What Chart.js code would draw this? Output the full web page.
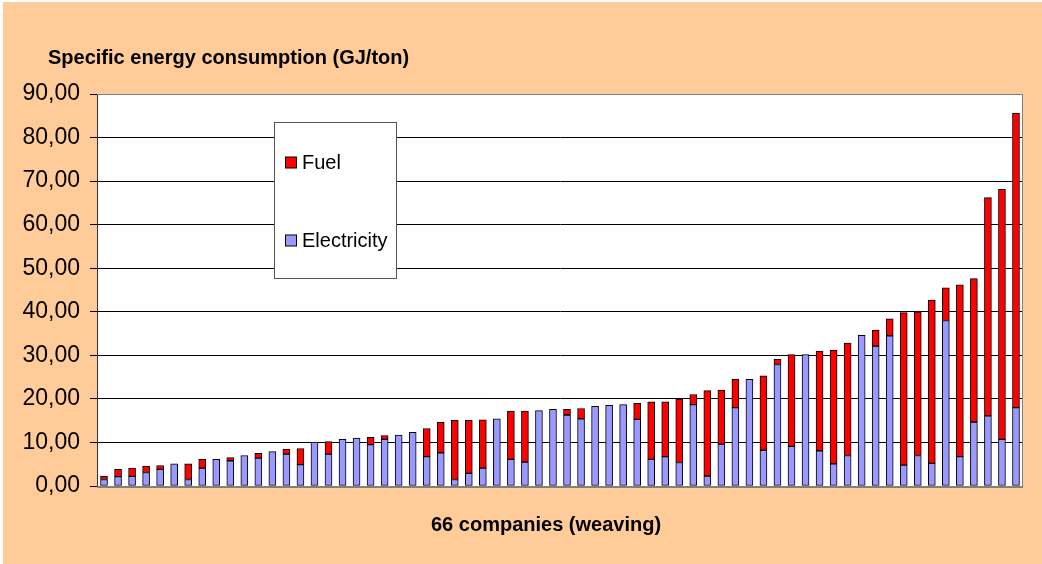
<!DOCTYPE html>
<html>
<head>
<meta charset="utf-8">
<script src="https://cdn.jsdelivr.net/npm/chart.js@4.4.1/dist/chart.umd.min.js"></script>
<style>
  html, body { margin: 0; padding: 0; background: #ffffff; }
  #wrap { width: 1042px; height: 564px; position: relative; }
</style>
</head>
<body>
<div id="wrap"><canvas id="c" width="1042" height="564"></canvas></div>
<script>
// ---- data ----
const companies = Array.from({length: 66}, (_, i) => String(i + 1));
const electricity = [
  1.5, 2.15, 2.2, 3.1, 3.8, 5.1, 1.5, 4.1, 6.1, 5.8, 7.0, 6.4, 7.9, 7.3, 4.9, 10.1, 7.3, 10.7, 11.0, 9.5, 10.7, 11.7,
  12.3, 6.75, 7.6, 1.5, 2.9, 4.1, 15.4, 6.1, 5.5, 17.3, 17.6, 16.3, 15.4, 18.3, 18.5, 18.7, 15.3, 6.1, 6.75, 5.4, 18.7, 2.3, 9.6,
  18.0, 24.5, 8.2, 27.9, 9.1, 30.2, 8.1, 5.1, 7.0, 34.6, 32.1, 34.5, 4.8, 7.0, 5.2, 38.0, 6.75, 14.7, 16.1, 10.7, 18.0
];
const fuel = [
  0.8, 1.65, 1.9, 1.5, 0.9, 0, 3.6, 2.0, 0, 0.7, 0, 1.1, 0, 1.2, 3.7, 0, 2.9, 0, 0, 1.7, 0.9, 0,
  0, 6.45, 7.0, 13.6, 12.2, 11.1, 0, 11.1, 11.7, 0, 0, 1.3, 2.4, 0, 0, 0, 3.7, 13.2, 12.55, 14.6, 2.3, 19.6, 12.4,
  6.5, 0, 17.1, 1.2, 21.1, 0, 22.9, 26.1, 25.8, 0, 3.7, 3.9, 35.0, 33.0, 37.5, 7.5, 39.45, 32.9, 50.1, 57.4, 67.6
];
const seriesNames = ['Electricity', 'Fuel'];
const yTickValues = [0, 10, 20, 30, 40, 50, 60, 70, 80, 90];
const chartTitle = 'Specific energy consumption (GJ/ton)';
const xTitle = '66 companies (weaving)';

const FONT = "Arial, 'Liberation Sans', sans-serif";
const PEACH = '#FFCC99';

const decorPlugin = {
  id: 'decor',
  beforeDraw(chart) {
    const ctx = chart.ctx, a = chart.chartArea;
    ctx.save();
    ctx.fillStyle = '#ffffff';
    ctx.fillRect(0, 0, chart.width, chart.height);
    ctx.fillStyle = PEACH;
    ctx.fillRect(3, 2, chart.width - 3, chart.height - 2);
    ctx.fillStyle = '#ffffff';
    ctx.fillRect(a.left, a.top, a.right - a.left, a.bottom - a.top);
    ctx.restore();
  },
  afterDatasetsDraw(chart) {
    const ctx = chart.ctx, a = chart.chartArea;
    ctx.save();
    // plot border (top/right)
    ctx.strokeStyle = '#808080';
    ctx.lineWidth = 1;
    ctx.beginPath();
    ctx.moveTo(a.left, a.top + 0.5);
    ctx.lineTo(a.right - 0.5, a.top + 0.5);
    ctx.lineTo(a.right - 0.5, a.bottom);
    ctx.stroke();
    // bottom axis line
    ctx.strokeStyle = '#808080';
    ctx.lineWidth = 2;
    ctx.beginPath();
    ctx.moveTo(a.left, a.bottom + 1);
    ctx.lineTo(a.right, a.bottom + 1);
    ctx.stroke();

    // titles
    ctx.fillStyle = '#000000';
    ctx.font = 'bold 20px ' + FONT;
    ctx.textAlign = 'left';
    ctx.textBaseline = 'alphabetic';
    ctx.fillText(chartTitle, 48, 64);
    ctx.fillText(xTitle, 431, 531);

    // legend box
    const bx = 274.5, by = 122.5, bw = 122, bh = 156;
    ctx.fillStyle = '#ffffff';
    ctx.fillRect(bx, by, bw, bh);
    ctx.strokeStyle = '#555555';
    ctx.lineWidth = 1;
    ctx.strokeRect(bx, by, bw, bh);
    const items = [chart.data.datasets[1], chart.data.datasets[0]];
    const ys = [162.5, 240.5];
    ctx.font = '20px ' + FONT;
    ctx.textBaseline = 'middle';
    items.forEach((ds, i) => {
      ctx.fillStyle = ds.backgroundColor;
      ctx.fillRect(285.5, ys[i] - 5.5, 11, 11);
      ctx.strokeStyle = '#000000';
      ctx.strokeRect(285.5, ys[i] - 5.5, 11, 11);
      ctx.fillStyle = '#000000';
      ctx.fillText(ds.label, 302, ys[i] + 1);
    });
    ctx.restore();
  }
};

new Chart(document.getElementById('c'), {
  type: 'bar',
  data: {
    labels: companies,
    datasets: [
      { label: seriesNames[0], data: electricity, backgroundColor: '#9999FF', borderColor: '#000000', borderWidth: 1, borderSkipped: false, barThickness: 7 },
      { label: seriesNames[1], data: fuel, backgroundColor: '#FF0000', borderColor: '#000000', borderWidth: 1, borderSkipped: false, barThickness: 7 }
    ]
  },
  options: {
    responsive: false,
    animation: false,
    devicePixelRatio: 1,
    layout: { padding: { left: 3, top: 94, right: 19, bottom: 78 } },
    plugins: { legend: { display: false }, tooltip: { enabled: false }, title: { display: false } },
    scales: {
      x: {
        stacked: true,
        grid: { display: false, drawTicks: false },
        border: { display: false },
        ticks: { display: false },
        afterFit(s) { s.height = 0; }
      },
      y: {
        stacked: true,
        min: 0, max: 90,
        afterBuildTicks(s) { s.ticks = yTickValues.map(v => ({ value: v })); },
        afterFit(s) { s.width = 94; },
        grid: {
          color: (c) => c.tick && c.tick.value === 90 ? '#808080' : '#000000',
          lineWidth: 1,
          tickLength: 7,
          tickColor: '#000000',
          drawTicks: true
        },
        border: { display: true, color: '#333333', width: 1 },
        ticks: {
          padding: 10,
          color: '#000000',
          font: { family: FONT, size: 23 },
          callback: (v) => Number(v).toFixed(2).replace('.', ',')
        }
      }
    }
  },
  plugins: [decorPlugin]
});
</script>
</body>
</html>
